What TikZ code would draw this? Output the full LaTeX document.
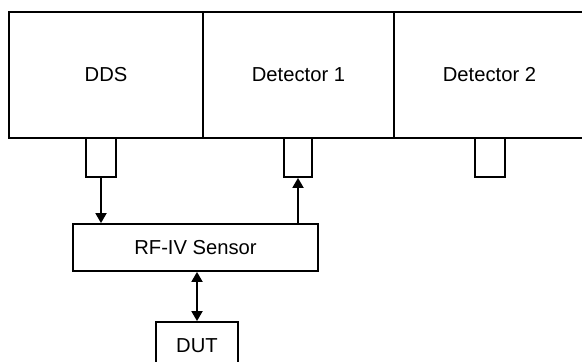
\documentclass[tikz,border=0pt]{standalone}
\usepackage{fontspec}
\setmainfont{Liberation Sans}
\usetikzlibrary{positioning,arrows.meta}

\tikzset{
  unit/.style={draw,line width=0.9pt,minimum height=63pt,inner sep=0pt},
  port/.style={draw,line width=0.9pt,minimum height=19.5pt,inner sep=0pt},
  blk/.style={draw,line width=0.9pt,minimum height=23.5pt,inner sep=0pt},
  sig/.style={line width=0.9pt,arrows={-Triangle[length=5pt,width=5.5pt]}},
  sigboth/.style={line width=0.9pt,arrows={Triangle[length=5pt,width=5.5pt]-Triangle[length=5pt,width=5.5pt]}}
}

\begin{document}
\begin{tikzpicture}[x=0.5pt,y=-0.5pt,font=\fontsize{10.1}{12}\selectfont]
\clip (0,0) rectangle (582,362);
\fill[white] (0,0) rectangle (582,362);
% instrument rack
\node[unit,minimum width=97pt] (dds) at (106,75) {DDS};
\node[unit,minimum width=95.5pt] (det1) at (298.5,75) {Detector 1};
\node[unit,minimum width=95.5pt] (det2) at (489.5,75) {Detector 2};
% connectors
\node[port,minimum width=15pt] (pdds) at (101,157.5) {};
\node[port,minimum width=14pt] (pdet1) at (298,157.5) {};
\node[port,minimum width=15pt] (pdet2) at (490,157.5) {};
% sensor and device
\node[blk,minimum width=122.5pt] (sensor) at (195.5,247.5) {RF-IV Sensor};
\node[blk,minimum width=41pt,minimum height=24pt] (dut) at (197,346) {DUT};
\draw[sig] (pdds.south) -- (pdds.south |- sensor.north);
\draw[sig] (pdet1.south |- sensor.north) -- (pdet1.south);
\draw[sigboth] (sensor.south -| dut.north) -- (dut.north);
\end{tikzpicture}
\end{document}
